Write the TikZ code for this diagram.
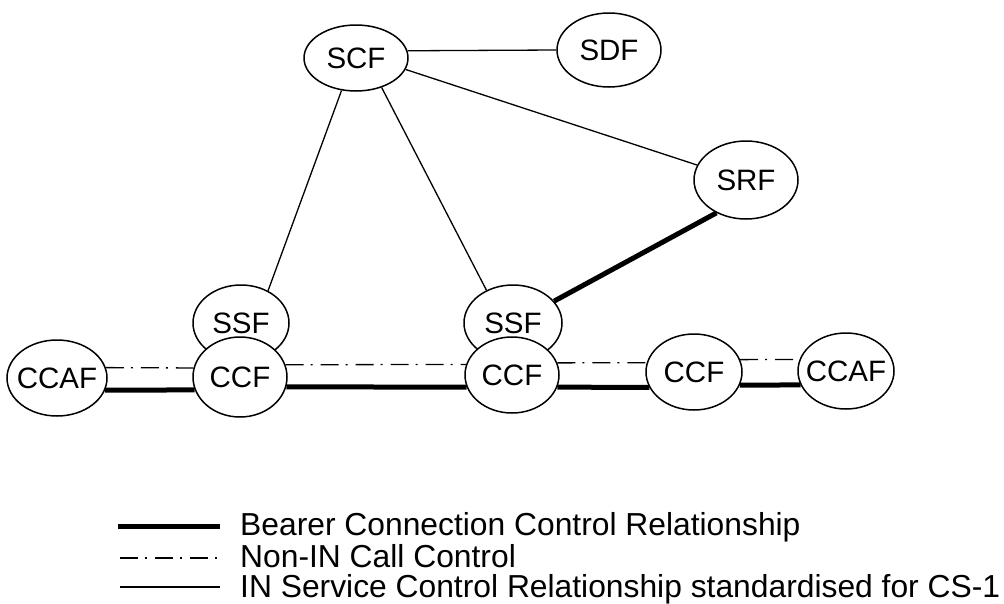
\documentclass[tikz,border=0pt]{standalone}
\usepackage{fontspec}
\setmainfont{Liberation Sans}
\usetikzlibrary{shapes.geometric,backgrounds}

\tikzset{
  fn/.style={ellipse, draw, fill=white, line width=1.5pt, inner sep=-12pt,
             font=\fontsize{29.5}{31}\selectfont},
  sc/.style={line width=1.3pt},
  bearer/.style={line width=5pt},
  callctl/.style={line width=1.3pt, dash pattern=on 18pt off 7pt on 2pt off 8pt},
  legtext/.style={anchor=base west, inner sep=0pt, font=\fontsize{31.8}{33}\selectfont},
}

\begin{document}
\begin{tikzpicture}[x=1pt, y=-1pt]
\useasboundingbox (0,0) rectangle (1004,603);

% functional entities
\node[fn, minimum width=104pt, minimum height=66pt] (scf)   at (356,58)  {SCF};
\node[fn, minimum width=104pt, minimum height=74pt] (sdf)   at (609,50)  {SDF};
\node[fn, minimum width=104pt, minimum height=78pt] (srf)   at (746,180) {SRF};
\node[fn, minimum width=96pt,  minimum height=76pt] (ssfl)  at (241,323) {SSF};
\node[fn, minimum width=98pt,  minimum height=76pt] (ssfm)  at (513,323) {SSF};
\node[fn, minimum width=100pt, minimum height=76pt] (ccafl) at (57,378)  {CCAF};
\node[fn, minimum width=94pt,  minimum height=80pt] (ccfl)  at (240,377) {CCF};
\node[fn, minimum width=94pt,  minimum height=76pt] (ccfm)  at (512,375) {CCF};
\node[fn, minimum width=96pt,  minimum height=76pt] (ccfr)  at (694,372) {CCF};
\node[fn, minimum width=96pt,  minimum height=76pt] (ccafr) at (846,371) {CCAF};

\begin{pgfonlayer}{background}
  % IN service control relationships
  \draw[sc] (scf.8)   -- (sdf.180);
  \draw[sc] (scf.246) -- (ssfl.50);
  \draw[sc] (scf.311) -- (ssfm.129);
  \draw[sc] (scf.347) -- (srf.163);
  % bearer connection control
  \draw[bearer] (srf.228)    -- (ssfm.28);
  \draw[bearer] (ccafl.-14)  -- (ccfl.196);
  \draw[bearer] (ccfl.-12)   -- (ccfm.195);
  \draw[bearer] (ccfm.-15)   -- (ccfr.199);
  \draw[bearer] (ccfr.-16)   -- (ccafr.197);
  % non-IN call control
  \draw[callctl] (ccafl.12) -- (ccfl.169);
  \draw[callctl] (ccfl.15)  -- (ccfm.167);
  \draw[callctl] (ccfm.15)  -- (ccfr.169);
  \draw[callctl] (ccfr.15)  -- (ccafr.166);
\end{pgfonlayer}

% legend
\coordinate (k1a) at (118,526); \coordinate (k1b) at (220,526);
\coordinate (k2a) at (120,558); \coordinate (k2b) at (220,558);
\coordinate (k3a) at (120,587); \coordinate (k3b) at (220,587);
\draw[bearer]  (k1a) -- (k1b);
\draw[callctl] (k2a) -- (k2b);
\draw[sc]      (k3a) -- (k3b);
\node[legtext] (t1) at (240,535) {Bearer Connection Control Relationship};
\node[legtext] (t2) at (240,567) {Non-IN Call Control};
\node[legtext] (t3) at (240,597) {IN Service Control Relationship standardised for CS-1};
\end{tikzpicture}
\end{document}
